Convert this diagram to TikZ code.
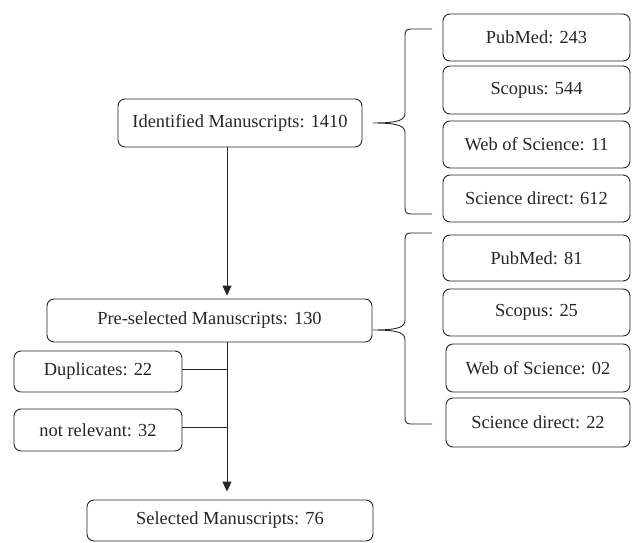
\documentclass[tikz,border=0pt]{standalone}
\usepackage{fontspec}
\setmainfont{Liberation Serif}
\usetikzlibrary{arrows.meta}
\begin{document}
\begin{tikzpicture}[x=1pt,y=-1pt,
  box/.style={draw=black!85, line width=0.9pt, rounded corners=7pt, inner sep=0pt,
     font=\fontsize{18.4}{22}\selectfont, text=black!85},
  conn/.style={line width=0.9pt, draw=black!85},
  arr/.style={conn, -{Triangle[length=10pt,width=9pt]}}]
\useasboundingbox (0,0) rectangle (635,543);
\fill[white] (0,0) rectangle (635,543);
% main column
\node[box, minimum width=244pt, minimum height=48pt] (ident) at (240,123) {Identified Manuscripts: 1410};
\node[box, minimum width=325pt, minimum height=43pt] (pre) at (209.5,320.5) {Pre-selected Manuscripts: 130};
\node[box, minimum width=168pt, minimum height=41pt] (dup) at (98,371.5) {Duplicates: 22};
\node[box, minimum width=168pt, minimum height=42pt] (notrel) at (98,430) {not relevant: 32};
\node[box, minimum width=286pt, minimum height=41pt] (sel) at (230,520.5) {Selected Manuscripts: 76};
% first source group
\node[box, minimum width=187pt, minimum height=47pt] (pubA) at (536.5,37.5) {PubMed: 243};
\node[box, minimum width=187pt, minimum height=48pt] (scoA) at (536.5,90) {Scopus: 544};
\node[box, minimum width=187pt, minimum height=47pt] (wosA) at (536.5,144.5) {Web of Science: 11};
\node[box, minimum width=187pt, minimum height=47pt] (sdA) at (536.5,198.5) {Science direct: 612};
% second source group
\node[box, minimum width=187pt, minimum height=46pt] (pubB) at (536.5,258) {PubMed: 81};
\node[box, minimum width=187pt, minimum height=47pt] (scoB) at (536.5,312.5) {Scopus: 25};
\node[box, minimum width=184pt, minimum height=48pt] (wosB) at (538,368) {Web of Science: 02};
\node[box, minimum width=184pt, minimum height=49pt] (sdB) at (538,422.5) {Science direct: 22};
% connectors
\coordinate (ax) at (227,0);
\draw[arr, shorten >=3pt] (ident.south -| ax) -- (pre.north -| ax);
\draw[arr, shorten >=8pt] (pre.south -| ax) -- (sel.north -| ax);
\draw[conn] (dup.east |- 0,369) -- (ax |- 0,369);
\draw[conn] (notrel.east |- 0,427) -- (ax |- 0,427);
% braces
\draw[conn] (432,29) -- (411,29) .. controls (406,29) and (405,31) .. (405,36)
  -- (405,113) .. controls (405,120) and (399,123) .. (373,123)
  .. controls (399,123) and (405,126) .. (405,133)
  -- (405,207) .. controls (405,212) and (406,214) .. (411,214) -- (432,214);
\draw[conn] (432,233) -- (411,233) .. controls (406,233) and (405,235) .. (405,240)
  -- (405,320) .. controls (405,327) and (399,330) .. (373,330)
  .. controls (399,330) and (405,333) .. (405,340)
  -- (405,417) .. controls (405,422) and (406,424) .. (411,424) -- (432,424);
\end{tikzpicture}
\end{document}
